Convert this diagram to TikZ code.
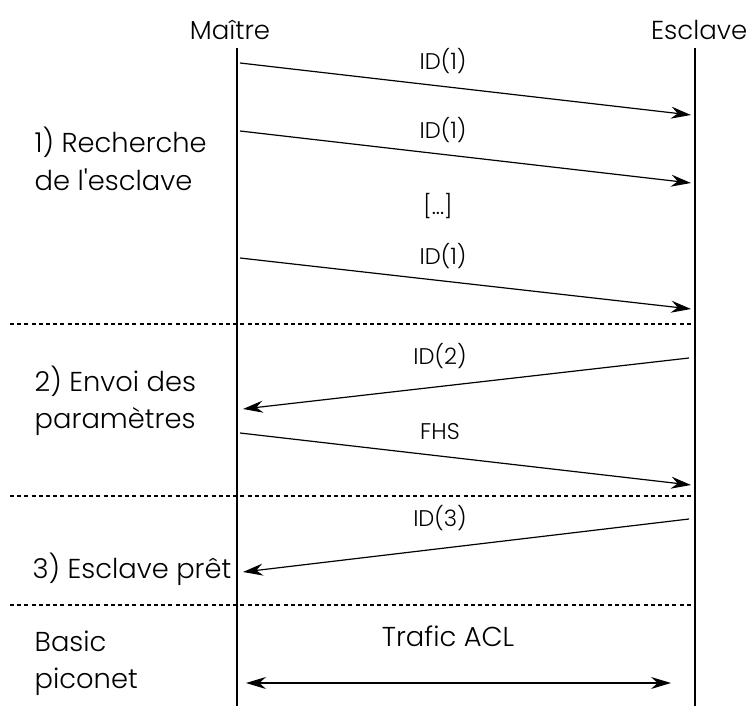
\documentclass[tikz,border=0pt]{standalone}
\usepackage{fontspec}
\setmainfont{Poppins Light}
\setmonofont{Poppins Light}
\usetikzlibrary{arrows.meta}
\begin{document}
\begin{tikzpicture}[x=0.75pt,y=-0.75pt,
  lifeline/.style={line width=0.9pt},
  sep/.style={dashed,line width=0.8pt,dash pattern=on 3pt off 2.4pt},
  msg/.style={line width=0.9pt,-{Stealth[length=15pt,width=9pt,inset=5pt]}},
  msgboth/.style={line width=0.9pt,{Stealth[length=15pt,width=9pt,inset=5pt]}-{Stealth[length=15pt,width=9pt,inset=5pt]}},
  head/.style={font=\fontsize{19.5}{23}\selectfont},
  lbl/.style={font=\fontsize{17}{20}\selectfont},
  trafic/.style={font=\fontsize{20.5}{24}\selectfont},
  phase/.style={font=\fontsize{20.5}{28}\selectfont,align=left,anchor=west}]
\useasboundingbox (0,0) rectangle (750,706);
% lifelines
\node[head] (m) at (230,30) {Maître};
\node[head,anchor=east] (s) at (752,30) {Esclave};
\coordinate (mt) at (237,48); \coordinate (mb) at (237,706);
\coordinate (st) at (695,48); \coordinate (sb) at (695,706);
\draw[lifeline] (mt) -- (mb);
\draw[lifeline] (st) -- (sb);
% separators
\coordinate (d1a) at (10,324); \coordinate (d1b) at (695,324);
\coordinate (d2a) at (10,496); \coordinate (d2b) at (695,496);
\coordinate (d3a) at (10,605); \coordinate (d3b) at (695,605);
\draw[sep] (d1a) -- (d1b);
\draw[sep] (d2a) -- (d2b);
\draw[sep] (d3a) -- (d3b);
% messages
\coordinate (a1) at (240,63);  \coordinate (b1) at (691,115);
\coordinate (a2) at (240,131); \coordinate (b2) at (691,183);
\coordinate (a3) at (240,258); \coordinate (b3) at (691,309);
\coordinate (a4) at (689,358); \coordinate (b4) at (243,409);
\coordinate (a5) at (240,433); \coordinate (b5) at (691,485);
\coordinate (a6) at (689,519); \coordinate (b6) at (243,572);
\coordinate (a7) at (246,683); \coordinate (b7) at (671,683);
\draw[msg] (a1) -- (b1);
\draw[msg] (a2) -- (b2);
\draw[msg] (a3) -- (b3);
\draw[msg] (a4) -- (b4);
\draw[msg] (a5) -- (b5);
\draw[msg] (a6) -- (b6);
\draw[msgboth] (a7) -- (b7);
\node[lbl] (l1) at (443,61) {ID(1)};
\node[lbl] (l2) at (443,130) {ID(1)};
\node[lbl] (l0) at (438,206) {[...]};
\node[lbl] (l3) at (443,256) {ID(1)};
\node[lbl] (l4) at (440,356) {ID(2)};
\node[lbl] (l5) at (440,432) {FHS};
\node[lbl] (l6) at (440,518) {ID(3)};
\node[trafic] (l7) at (448,636) {Trafic ACL};
% phases
\node[phase] (p1) at (30,159) {1) Recherche\\de l\texttt{'}esclave};
\node[phase] (p2) at (30,401) {2) Envoi des\\paramètres};
\node[phase] (p3) at (28,569) {3) Esclave prêt};
\node[phase] (p4) at (30,663) {Basic\\piconet};
\end{tikzpicture}
\end{document}
